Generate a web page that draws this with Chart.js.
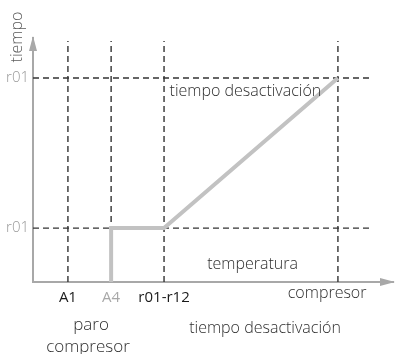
<!DOCTYPE html>
<html>
<head>
<meta charset="utf-8">
<script src="https://cdn.jsdelivr.net/npm/chart.js@4/dist/chart.umd.min.js"></script>
<style>
body { margin: 0; background: #fff; }
canvas { display: block; }
</style>
</head>
<body>
<canvas id="myChart" width="395" height="354"></canvas>
<script>
// x positions of the marks along "temperatura" (0..10 axis units)
const xMarks = [0.97, 2.17, 3.64, 8.47];
const xTickLabels = ['A1', 'A4', 'r01-r12'];
const xTickColors = ['#1a1a1a', '#a8a8a8', '#1a1a1a'];
// y positions of the r01 levels (0..10 axis units)
const yMarks = [2.21, 8.36];
const yTickLabels = ['r01', 'r01'];
const vLineTop = 9.88;
const hLineEnd = 9.42;
// compressor signal
const signalX = [2.17, 2.17, 3.64, 8.47];
const signalY = [0, 2.21, 2.21, 8.36];

const FONT = '"Open Sans", "Noto Sans", sans-serif';
const AXIS_GREY = '#a8a8a8';

const dashStyle = {
	borderColor: '#333',
	borderWidth: 1.4,
	borderDash: [6, 4],
	pointRadius: 0,
	fill: false
};

const datasets = [{
	label: 'compresor',
	data: signalX.map((x, i) => ({x: x, y: signalY[i]})),
	borderColor: '#c2c2c2',
	borderWidth: 4,
	pointRadius: 0,
	borderJoinStyle: 'miter',
	fill: false
}];
xMarks.forEach(x => datasets.push(Object.assign({
	data: [{x: x, y: 0}, {x: x, y: vLineTop}]
}, dashStyle)));
yMarks.forEach(y => datasets.push(Object.assign({
	data: [{x: 0, y: y}, {x: hLineEnd, y: y}]
}, dashStyle)));

const extras = {
	id: 'extras',
	afterDraw(chart) {
		const ctx = chart.ctx;
		const a = chart.chartArea;
		ctx.save();
		// arrow heads
		ctx.fillStyle = AXIS_GREY;
		ctx.beginPath();
		ctx.moveTo(a.left, a.top - 2);
		ctx.lineTo(a.left - 4, a.top + 13);
		ctx.lineTo(a.left + 4, a.top + 13);
		ctx.closePath();
		ctx.fill();
		ctx.beginPath();
		ctx.moveTo(a.right + 2, a.bottom);
		ctx.lineTo(a.right - 13, a.bottom - 4);
		ctx.lineTo(a.right - 13, a.bottom + 4);
		ctx.closePath();
		ctx.fill();

		ctx.textAlign = 'center';
		ctx.textBaseline = 'middle';
		const x = chart.scales.x, y = chart.scales.y;

		// axis title
		ctx.save();
		ctx.translate(17, 37);
		ctx.rotate(-Math.PI / 2);
		ctx.fillStyle = '#5a5a5a';
		ctx.font = '300 16px ' + FONT;
		ctx.fillText('tiempo', 0, 0);
		ctx.restore();

		ctx.fillStyle = '#2e2e2e';
		ctx.font = '300 16px ' + FONT;
		ctx.fillText('tiempo desactivación', x.getPixelForValue(5.9), y.getPixelForValue(7.8));
		ctx.fillText('temperatura', x.getPixelForValue(6.1), y.getPixelForValue(0.7));
		ctx.fillText('compresor', x.getPixelForValue(8.17), a.bottom + 11);
		ctx.fillText('tiempo desactivación', 265, a.bottom + 46);
		ctx.font = '300 17px ' + FONT;
		ctx.fillText('paro', 91, a.bottom + 43);
		ctx.fillText('compresor', 88, a.bottom + 65);
		ctx.restore();
	}
};

new Chart(document.getElementById('myChart').getContext('2d'), {
	type: 'line',
	data: {datasets: datasets},
	options: {
		responsive: false,
		animation: false,
		layout: {padding: {top: 38, right: 2, left: 0, bottom: 0}},
		plugins: {legend: {display: false}, tooltip: {enabled: false}},
		scales: {
			x: {
				type: 'linear',
				min: 0,
				max: 10,
				afterBuildTicks: s => { s.ticks = xMarks.slice(0, 3).map(v => ({value: v})); },
				afterFit: s => { s.height = 72; s.paddingLeft = 0; s.paddingRight = 0; },
				grid: {display: false, drawTicks: false},
				border: {display: true, color: AXIS_GREY, width: 2},
				ticks: {
					autoSkip: false,
					maxRotation: 0,
					padding: 7,
					color: c => xTickColors[c.index],
					font: {family: FONT, size: 15, weight: '500'},
					callback: (v, i) => xTickLabels[i]
				}
			},
			y: {
				type: 'linear',
				min: 0,
				max: 10,
				afterBuildTicks: s => { s.ticks = yMarks.map(v => ({value: v})); },
				afterFit: s => { s.width = 33; s.paddingTop = 0; s.paddingBottom = 0; },
				grid: {display: false, drawTicks: false},
				border: {display: true, color: AXIS_GREY, width: 2},
				ticks: {
					padding: 4,
					color: '#999',
					font: {family: FONT, size: 15, weight: '300'},
					callback: (v, i) => yTickLabels[i]
				}
			}
		}
	},
	plugins: [extras]
});
</script>
</body>
</html>
